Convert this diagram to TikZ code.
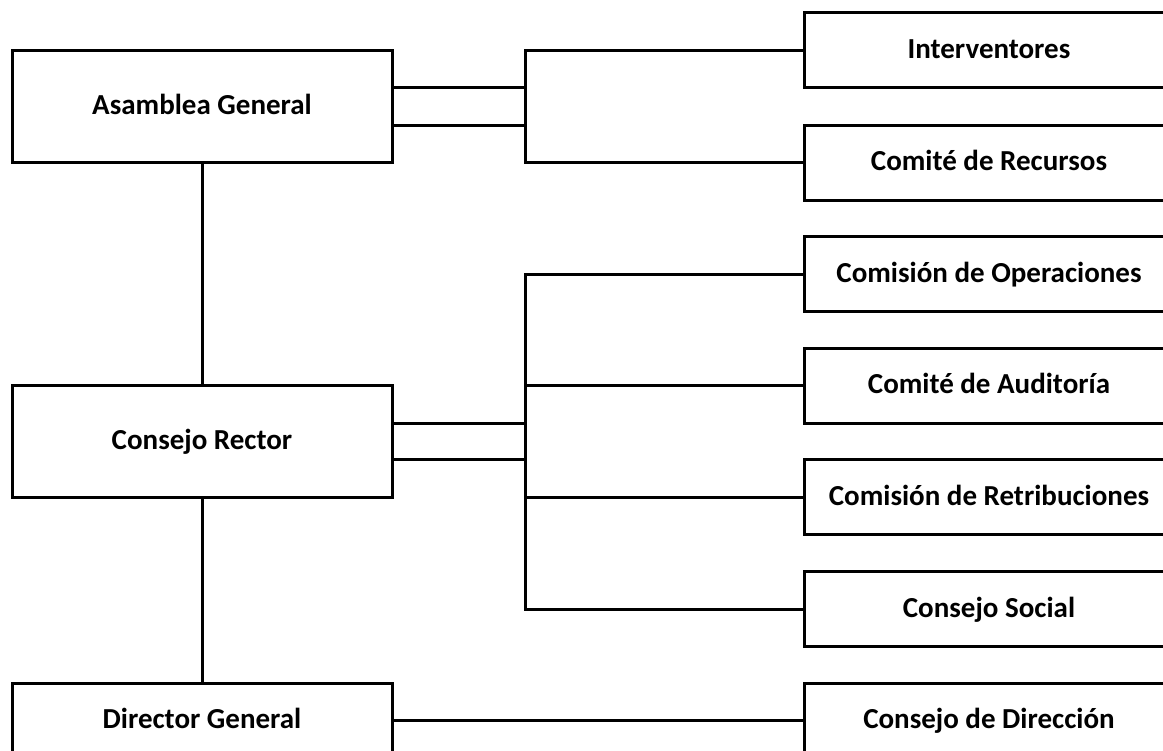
\documentclass[tikz,border=0pt]{standalone}
\usepackage{fontspec}
\setmainfont{Carlito}
\usetikzlibrary{positioning}

\begin{document}
\begin{tikzpicture}[x=1pt,y=-1pt,line width=3pt]
	\useasboundingbox (0,0) rectangle (1163,751);
	\clip (0,0) rectangle (1163,751);
	\tikzstyle{every node}=[draw,shape=rectangle,inner sep=0pt,text height=22pt,text depth=6pt,font=\fontsize{29}{34}\selectfont\bfseries]
	\tikzstyle{leftbox}=[minimum width=380pt,minimum height=112pt]
	\tikzstyle{rightbox}=[minimum width=370pt,minimum height=75pt]
	\node[leftbox] (asamblea) at (202, 107) {Asamblea General};
	\node[leftbox] (rector) at (202, 441.5) {Consejo Rector};
	\node[leftbox,minimum height=75pt] (director) at (202, 720.5) {Director General};
	\node[rightbox] (inter) at (989, 50.5) {Interventores};
	\node[rightbox] (recur) at (989, 163) {Comité de Recursos};
	\node[rightbox] (operac) at (989, 274.5) {Comisión de Operaciones};
	\node[rightbox] (audit) at (989, 386) {Comité de Auditoría};
	\node[rightbox] (retrib) at (989, 497) {Comisión de Retribuciones};
	\node[rightbox] (social) at (989, 609) {Consejo Social};
	\node[rightbox] (direccion) at (989, 720.5) {Consejo de Dirección};
	\coordinate (ka) at (525, 0);
	\draw (asamblea) -- (rector);
	\draw (rector) -- (director);
	\draw (director) -- (direccion);
	\draw (inter.west) -| (ka |- recur.west) -- (recur.west);
	\draw ([yshift=19pt]asamblea.east) -- +(133,0);
	\draw ([yshift=-19pt]asamblea.east) -- +(133,0);
	\draw (operac.west) -| (ka |- social.west) -- (social.west);
	\draw (audit.west) -- (audit.west -| ka);
	\draw (retrib.west) -- (retrib.west -| ka);
	\draw ([yshift=18pt]rector.east) -- +(133,0);
	\draw ([yshift=-18pt]rector.east) -- +(133,0);
\end{tikzpicture}
\end{document}
